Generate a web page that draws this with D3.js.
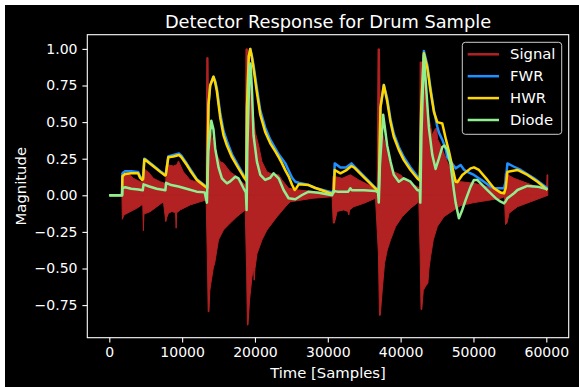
<!DOCTYPE html>
<html><head><meta charset="utf-8">
<script src="https://cdn.jsdelivr.net/npm/d3@7"></script>
<style>html,body{margin:0;padding:0;background:#fff;} svg{display:block;font-family:"DejaVu Sans",sans-serif;}</style>
</head><body><svg id="c" width="579" height="387"></svg>
<script>
// ---- data (time in samples, magnitude) ----
const xTicks = [0, 10000, 20000, 30000, 40000, 50000, 60000];
const yTicks = [-0.75, -0.5, -0.25, 0, 0.25, 0.5, 0.75, 1.0];
const seriesNames = ["Signal", "FWR", "HWR", "Diode"];

const signalUpper = [[0,0],[1740,0],[1790,0.16],[2200,0.14],[2850,0.14],[3300,0.116],[4220,0.093],[4600,0.09],[4680,0.195],[5000,0.17],[5360,0.16],[6050,0.116],[6970,0.093],[7750,0.08],[7820,0.207],[8100,0.207],[8800,0.2],[9300,0.21],[9490,0.235],[9800,0.2],[10180,0.16],[11100,0.105],[12480,0.082],[13300,0.06],[13380,0.94],[13560,0.94],[13620,0.5],[13850,0.45],[14540,0.3],[15230,0.23],[15680,0.22],[16600,0.16],[17520,0.127],[18430,0.08],[18700,0.07],[18760,1.0],[18980,1.0],[19080,0.78],[19350,0.78],[19590,0.64],[20040,0.43],[20500,0.34],[20960,0.23],[21650,0.16],[22560,0.14],[23250,0.14],[23710,0.105],[24620,0.048],[26000,0.036],[28300,0.025],[30590,0.012],[30700,0.13],[31050,0.127],[31970,0.116],[33100,0.14],[34250,0.105],[35630,0.07],[36780,0.048],[36900,1.0],[37100,1.0],[37200,0.45],[37470,0.43],[37920,0.34],[38380,0.23],[39060,0.16],[39990,0.14],[40910,0.093],[42280,0.059],[42600,0.05],[42680,0.91],[43100,0.91],[43430,0.685],[43880,0.53],[44350,0.41],[44700,0.45],[44900,0.46],[45100,0.38],[45490,0.34],[46410,0.23],[47320,0.116],[48240,0.093],[50070,0.082],[51910,0.059],[53740,0.025],[54250,0.02],[54330,0.15],[55570,0.116],[57410,0.082],[59240,0.048],[60050,0.04],[60100,0.14],[60200,0.14]];

const signalLower = [[0,0],[1740,0],[1790,-0.164],[2000,-0.135],[2850,-0.112],[3770,-0.089],[4460,-0.066],[4600,-0.07],[4680,-0.242],[4750,-0.13],[5010,-0.123],[5600,-0.112],[6520,-0.078],[7430,-0.044],[7760,-0.18],[7900,-0.15],[8115,-0.123],[8600,-0.11],[9100,-0.12],[9175,-0.225],[9250,-0.12],[9725,-0.1],[11100,-0.066],[12480,-0.044],[13300,-0.032],[13450,-0.4],[13580,-0.795],[13680,-0.795],[13800,-0.65],[13950,-0.6],[14300,-0.49],[14450,-0.47],[14990,-0.305],[15680,-0.237],[16600,-0.19],[17520,-0.146],[18660,-0.1],[18850,-0.5],[18960,-0.886],[19040,-0.886],[19257,-0.715],[19590,-0.556],[19800,-0.5],[19900,-0.58],[20000,-0.5],[20275,-0.4],[20960,-0.305],[21650,-0.237],[23030,-0.146],[24400,-0.066],[24860,-0.044],[28000,-0.02],[30590,-0.01],[30750,-0.19],[30900,-0.19],[31280,-0.11],[32190,-0.1],[32750,-0.11],[32875,-0.135],[33000,-0.1],[33560,-0.078],[34940,-0.055],[36550,-0.02],[36950,-0.4],[37100,-0.82],[37200,-0.82],[37470,-0.65],[37790,-0.465],[38160,-0.374],[38610,-0.305],[39300,-0.214],[40220,-0.146],[41360,-0.089],[42500,-0.044],[42680,-0.4],[42800,-0.78],[42900,-0.78],[43110,-0.65],[43430,-0.62],[43740,-0.6],[43900,-0.5],[44110,-0.42],[44480,-0.305],[45030,-0.214],[45940,-0.146],[47320,-0.1],[48240,-0.07],[50070,-0.05],[51910,-0.035],[53740,-0.02],[54250,-0.01],[54400,-0.2],[54600,-0.19],[54880,-0.123],[56040,-0.078],[57870,-0.044],[60200,0]];

const fwr = [[0,0],[1750,0],[1800,0.15],[2160,0.165],[3000,0.165],[3950,0.16],[4220,0.13],[4500,0.115],[4640,0.12],[4810,0.25],[5000,0.245],[6000,0.205],[7000,0.165],[7660,0.14],[7760,0.145],[8100,0.265],[8800,0.275],[9590,0.285],[9900,0.27],[10650,0.215],[11100,0.18],[12020,0.11],[13160,0.065],[13440,0.055],[13620,0.62],[13850,0.75],[14300,0.81],[14540,0.78],[14770,0.73],[15230,0.56],[15680,0.44],[16150,0.37],[16840,0.28],[17740,0.2],[18430,0.14],[18800,0.11],[18900,0.6],[19150,0.95],[19350,1.0],[19550,0.96],[19800,0.89],[20270,0.73],[20730,0.58],[21420,0.46],[22100,0.38],[22790,0.32],[23250,0.28],[23710,0.25],[24170,0.218],[24620,0.17],[25100,0.12],[25540,0.093],[26000,0.086],[27370,0.07],[28300,0.05],[30590,0.02],[30810,0.03],[30950,0.218],[31730,0.19],[32500,0.19],[33250,0.218],[33600,0.2],[35000,0.13],[36550,0.05],[37000,0.04],[37230,0.6],[37690,0.753],[38160,0.66],[38610,0.52],[39060,0.42],[39750,0.33],[40440,0.26],[41360,0.19],[42280,0.13],[42640,0.11],[42830,0.6],[43190,0.985],[43660,0.89],[44110,0.73],[44570,0.58],[45030,0.47],[45250,0.43],[45720,0.38],[46180,0.32],[46410,0.26],[47550,0.184],[48240,0.207],[48700,0.175],[49160,0.16],[50070,0.139],[51440,0.093],[52370,0.059],[52820,0.05],[53740,0.048],[54200,0.048],[54430,0.1],[54660,0.218],[55570,0.195],[56490,0.173],[58320,0.116],[60160,0.048]];

const hwr = [[0,0],[1750,0],[1800,0.13],[2160,0.145],[3000,0.15],[3950,0.15],[4220,0.12],[4500,0.105],[4640,0.11],[4810,0.245],[5000,0.24],[6000,0.2],[7000,0.16],[7660,0.135],[7760,0.14],[8100,0.26],[8800,0.265],[9590,0.275],[9900,0.26],[10650,0.207],[11100,0.17],[12020,0.105],[13160,0.06],[13440,0.05],[13620,0.62],[13850,0.75],[14300,0.81],[14540,0.77],[14770,0.71],[15230,0.53],[15680,0.41],[16150,0.34],[16840,0.26],[17740,0.184],[18430,0.127],[18800,0.1],[18900,0.6],[19150,0.95],[19350,1.0],[19550,0.95],[19800,0.87],[20270,0.70],[20730,0.55],[21420,0.43],[22100,0.355],[22790,0.30],[23250,0.26],[23710,0.218],[24170,0.17],[24620,0.13],[25100,0.07],[25450,0.036],[25700,0.05],[26000,0.075],[27370,0.07],[28300,0.05],[30590,0.009],[30810,0.02],[30950,0.173],[31730,0.15],[32500,0.17],[33250,0.2],[33600,0.19],[35000,0.12],[36550,0.045],[36780,0.036],[37000,0.03],[37230,0.6],[37690,0.753],[38160,0.64],[38610,0.50],[39060,0.40],[39750,0.31],[40440,0.24],[41360,0.173],[42280,0.116],[42640,0.1],[42830,0.6],[43190,0.97],[43660,0.87],[44110,0.71],[44570,0.57],[45030,0.50],[45720,0.49],[46180,0.39],[46630,0.30],[47550,0.093],[47800,0.09],[48470,0.139],[49610,0.184],[50070,0.191],[50750,0.173],[51910,0.105],[52820,0.048],[53740,0.018],[54200,0.014],[54430,0.05],[54660,0.16],[56040,0.173],[57410,0.139],[58790,0.093],[60160,0.036]];

const diode = [[0,0],[1750,0],[1800,0.05],[2200,0.055],[3000,0.045],[4000,0.04],[4600,0.035],[4700,0.075],[5500,0.06],[6500,0.045],[7700,0.035],[7800,0.085],[8500,0.07],[9500,0.06],[10600,0.045],[12000,0.025],[13100,0.02],[13400,-0.05],[13600,0.3],[14000,0.51],[14300,0.45],[14540,0.32],[15000,0.19],[15460,0.116],[15900,0.093],[16150,0.082],[16600,0.095],[17300,0.127],[17750,0.115],[18430,0.048],[18750,0.02],[18850,-0.1],[18950,0.3],[19250,0.88],[19400,0.9],[19600,0.7],[19800,0.41],[20270,0.23],[20730,0.14],[21400,0.105],[22100,0.12],[22560,0.15],[23250,0.116],[23930,0.036],[24620,-0.02],[25540,-0.027],[26460,0.002],[27370,0.025],[28750,0.018],[30590,0.0],[30810,0.03],[31300,0.025],[32800,0.025],[33100,0.048],[33300,0.035],[35000,0.035],[36550,0.03],[36900,0.02],[37000,-0.05],[37150,0.2],[37600,0.55],[38150,0.34],[38610,0.23],[39060,0.14],[39750,0.093],[40440,0.116],[41360,0.093],[42280,0.036],[42640,0.03],[42700,-0.05],[42850,0.4],[43190,0.96],[43350,0.85],[43880,0.46],[44350,0.275],[44800,0.18],[45250,0.25],[45720,0.33],[46000,0.34],[46410,0.31],[46630,0.26],[46860,0.21],[47320,0.03],[47550,-0.05],[48000,-0.157],[48460,-0.1],[48925,-0.032],[49610,0.059],[50070,0.105],[50530,0.105],[50750,0.093],[51910,0.036],[53050,-0.02],[53740,-0.044],[54200,-0.055],[54430,-0.04],[54660,-0.02],[55570,0.014],[56040,0.036],[57410,0.064],[58790,0.059],[60160,0.041]];

// ---- styles ----
const colors = {Signal: "#b22222", FWR: "#1e90ff", HWR: "#ffd700", Diode: "#90ee90"};
const tickFont = 14;
const labelFont = 14.8;
const titleFont = 17.8;
const lineW = 2.5;

const svg = d3.select("#c");
svg.append("rect").attr("x", 0).attr("y", 0).attr("width", 579).attr("height", 387).attr("fill", "#fff");
svg.append("rect").attr("x", 5).attr("y", 5).attr("width", 574).attr("height", 382).attr("fill", "#000");

const L = 87.3, R = 568.7, T = 34.7, B = 337.7;
const x = d3.scaleLinear().domain([-3021, 63075]).range([L, R]);
const y = d3.scaleLinear().domain([-0.9727, 1.097]).range([B, T]);

const clip = svg.append("defs").append("clipPath").attr("id", "clip");
clip.append("rect").attr("x", L).attr("y", T).attr("width", R - L).attr("height", B - T);
const plot = svg.append("g").attr("clip-path", "url(#clip)");

// signal: filled envelope (dense waveform)
const areaUp = d3.area().x(d => x(d[0])).y0(y(0)).y1(d => y(d[1]));
const areaDn = d3.area().x(d => x(d[0])).y0(d => y(d[1])).y1(y(0));
plot.append("path").datum(signalUpper).attr("d", areaUp).attr("fill", colors.Signal)
  .attr("stroke", colors.Signal).attr("stroke-width", 1);
plot.append("path").datum(signalLower).attr("d", areaDn).attr("fill", colors.Signal)
  .attr("stroke", colors.Signal).attr("stroke-width", 1);

const line = d3.line().x(d => x(d[0])).y(d => y(d[1]));
[["FWR", fwr], ["HWR", hwr], ["Diode", diode]].forEach(([n, data]) => {
  plot.append("path").datum(data).attr("d", line).attr("fill", "none")
    .attr("stroke", colors[n]).attr("stroke-width", lineW)
    .attr("stroke-linejoin", "round").attr("stroke-linecap", "butt");
});

// axes
const xAxis = d3.axisBottom(x).tickValues(xTicks).tickSize(4.9).tickPadding(4.9).tickFormat(d3.format("d"));
const yAxis = d3.axisLeft(y).tickValues(yTicks).tickSize(4.9).tickPadding(4.9)
  .tickFormat(d => d3.format(".2f")(d).replace("-", "\u2212"));
const gx = svg.append("g").attr("transform", `translate(0,${B})`).call(xAxis);
const gy = svg.append("g").attr("transform", `translate(${L},0)`).call(yAxis);
[gx, gy].forEach(g => {
  g.select(".domain").remove();
  g.selectAll(".tick line").attr("stroke", "#fff").attr("stroke-width", 1.1);
  g.selectAll(".tick text").attr("fill", "#fff").style("font-size", tickFont + "px").style("font-family", "DejaVu Sans");
});
svg.append("rect").attr("x", L).attr("y", T).attr("width", R - L).attr("height", B - T)
  .attr("fill", "none").attr("stroke", "#fff").attr("stroke-width", 1.1);

// title & labels
svg.append("text").attr("x", (L + R) / 2).attr("y", 28).attr("text-anchor", "middle")
  .attr("fill", "#fff").style("font-size", titleFont + "px").text("Detector Response for Drum Sample");
svg.append("text").attr("x", (L + R) / 2).attr("y", 377.5).attr("text-anchor", "middle")
  .attr("fill", "#fff").style("font-size", labelFont + "px").text("Time [Samples]");
svg.append("text").attr("transform", `translate(25.8,${(T + B) / 2}) rotate(-90)`).attr("text-anchor", "middle")
  .attr("fill", "#fff").style("font-size", labelFont + "px").text("Magnitude");

// legend
const lg = svg.append("g");
lg.append("rect").attr("x", 462.3).attr("y", 42.3).attr("width", 99.4).attr("height", 92).attr("rx", 3)
  .attr("fill", "#000").attr("fill-opacity", 0.8).attr("stroke", "#ccc").attr("stroke-width", 1);
seriesNames.forEach((n, i) => {
  const yy = 54.3 + i * 21.9;
  lg.append("line").attr("x1", 467.7).attr("x2", 499).attr("y1", yy).attr("y2", yy)
    .attr("stroke", colors[n]).attr("stroke-width", lineW);
  lg.append("text").attr("x", 510).attr("y", yy).attr("dy", "0.35em").attr("fill", "#fff")
    .style("font-size", labelFont + "px").text(n);
});
</script></body></html>
